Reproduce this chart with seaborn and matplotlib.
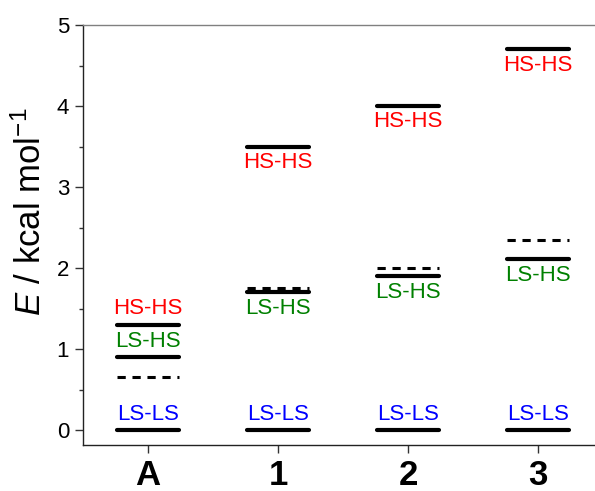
import matplotlib
matplotlib.use("Agg")
import matplotlib.pyplot as plt
import seaborn as sns
import pandas as pd
import numpy as np

categories = ["A", "1", "2", "3"]
ls_ls = [0.0, 0.0, 0.0, 0.0]
ls_hs = [0.90, 1.70, 1.90, 2.11]
hs_hs = [1.30, 3.50, 4.00, 4.70]
dashed = [0.65, 1.75, 2.00, 2.35]
# label placement: True = above the level, False = below
hs_above = [True, False, False, False]
lshs_above = [True, False, False, False]

sns.set_theme(style="ticks")
plt.rcParams["font.family"] = ["Liberation Sans", "DejaVu Sans"]
plt.rcParams["mathtext.fontset"] = "custom"
plt.rcParams["mathtext.it"] = "Liberation Sans:italic"
plt.rcParams["mathtext.rm"] = "Liberation Sans"
plt.rcParams["text.color"] = "black"
plt.rcParams["axes.labelcolor"] = "black"
plt.rcParams["xtick.color"] = "black"
plt.rcParams["ytick.color"] = "black"

fig = plt.figure(figsize=(5.95, 4.91), dpi=100)
ax = fig.add_axes([83/595, 1-445/491, (603-83)/595, (445-25)/491])

x = np.arange(len(categories))
hw = 0.235
for vals in (ls_ls, ls_hs, hs_hs):
    lc = ax.hlines(vals, x - hw, x + hw, color="black", lw=3.0)
    lc.set_capstyle("round")
ax.hlines(dashed, x - 0.24, x + 0.24, color="black", lw=2.2,
          linestyles=(0, (2.7, 2.2)))

off = 11.5
def lab(xi, y, text, color, above):
    ax.annotate(text, (xi, y), xytext=(0, off if above else -off),
                textcoords="offset points", ha="center", va="center",
                color=color, fontsize=16)

for i in range(len(categories)):
    lab(x[i], hs_hs[i], "HS-HS", "#ff0000", hs_above[i])
    lab(x[i], ls_hs[i], "LS-HS", "#008000", lshs_above[i])
    lab(x[i], ls_ls[i], "LS-LS", "#0000ff", True)

ax.set_xlim(-0.5, 3.5)
ax.set_ylim(-0.185, 5.0)
ax.set_xticks(x)
ax.set_xticklabels(categories, fontsize=25, fontweight="bold")
ax.set_yticks([0, 1, 2, 3, 4, 5])
ax.set_yticks(np.arange(0.5, 5, 1.0), minor=True)
ax.tick_params(axis="y", labelsize=16, length=6, width=1, color="#333333", pad=4)
ax.tick_params(axis="y", which="minor", length=3, width=1, color="#333333")
ax.tick_params(axis="x", length=6, width=1, color="#333333", pad=4)
ax.set_ylabel("$E$ / kcal mol$^{\\mathregular{-1}}$", fontsize=25)
ax.yaxis.set_label_coords(-0.068, 0.555)

for s in ("left", "bottom"):
    ax.spines[s].set_color("#222222")
    ax.spines[s].set_linewidth(1.0)
ax.spines["top"].set_color("#808080")
ax.spines["top"].set_linewidth(1.0)
ax.spines["right"].set_visible(False)

fig.savefig("out.png", dpi=100)
